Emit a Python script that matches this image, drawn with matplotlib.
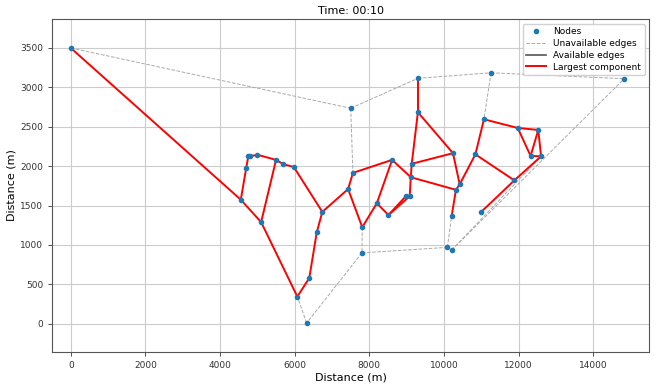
import matplotlib
matplotlib.use('Agg')
import matplotlib.pyplot as plt
from matplotlib.lines import Line2D

# node positions (m)
node_x = [0, 7500, 9300, 11260, 14830, 9300, 4760, 4800, 5000, 4700,
          5500, 5695, 5975, 4555, 5100, 6740, 6590, 6390, 6070, 6320,
          7430, 7560, 8610, 9135, 9110, 8200, 8510, 8980, 9080, 7810,
          7800, 10090, 10205, 10205, 10240, 10420, 10320, 10840, 11070, 11975,
          12525, 12320, 12600, 11885, 10985]
node_y = [3500, 2735, 3115, 3185, 3110, 2685, 2135, 2125, 2145, 1975,
          2080, 2025, 1990, 1575, 1290, 1420, 1160, 580, 345, 10,
          1710, 1915, 2080, 2030, 1860, 1530, 1380, 1620, 1618, 1225,
          900, 970, 935, 1370, 2165, 1770, 1700, 2150, 2595, 2485,
          2460, 2130, 2125, 1820, 1415]

# edges as node index pairs
unavailable_edges = [(0, 1), (1, 2), (2, 3), (3, 4), (3, 38), (1, 21), (29, 30),
                     (30, 19), (19, 18), (30, 31), (31, 33), (32, 42), (32, 4)]
largest_edges = [(0, 13), (13, 14), (14, 18), (13, 9), (9, 6), (6, 7), (7, 8), (8, 10),
                 (10, 14), (10, 11), (11, 12), (12, 15), (15, 16), (16, 17), (17, 18),
                 (15, 20), (20, 21), (20, 29), (29, 25), (25, 22), (25, 26), (26, 27),
                 (26, 28), (21, 22), (22, 24), (24, 23), (24, 28), (23, 5), (5, 2),
                 (5, 34), (23, 34), (24, 36), (34, 35), (35, 36), (36, 33), (35, 37),
                 (37, 38), (37, 43), (38, 39), (39, 40), (39, 41), (41, 42), (41, 40),
                 (40, 42), (42, 43), (43, 44)]

plt.rcParams['font.family'] = 'DejaVu Sans'
fig = plt.figure(figsize=(6.59, 3.85), dpi=100)
ax = fig.add_axes([0.0794, 0.0865, 0.9059, 0.8634])

for a, b in unavailable_edges:
    ax.plot([node_x[a], node_x[b]], [node_y[a], node_y[b]], color='#aaaaaa',
            linestyle='--', linewidth=0.7, zorder=2)
for a, b in largest_edges:
    ax.plot([node_x[a], node_x[b]], [node_y[a], node_y[b]], color='red',
            linewidth=1.4, zorder=3)
ax.scatter(node_x, node_y, s=9, color='#1f77b4', zorder=4)

handles = [
    Line2D([], [], marker='o', linestyle='none', color='#1f77b4', markersize=3),
    Line2D([], [], color='#aaaaaa', linestyle='--', linewidth=0.7),
    Line2D([], [], color='#555555', linewidth=1.2),
    Line2D([], [], color='red', linewidth=1.4),
]
labels = ['Nodes', 'Unavailable edges', 'Available edges', 'Largest component']
ax.legend(handles, labels, loc='upper right', fontsize=6.5, handlelength=2.2,
          borderpad=0.4, labelspacing=0.3, framealpha=0.9)

ax.set_xlim(-494, 15500)
ax.set_ylim(-354, 3864)
ax.set_xticks(range(0, 15000, 2000))
ax.set_yticks(range(0, 4000, 500))
ax.tick_params(labelsize=6.5, length=3, width=0.6, colors='#333333')
for s in ax.spines.values():
    s.set_color('#555555')
    s.set_linewidth(0.8)
ax.grid(True, color='#cccccc', linewidth=0.8)
ax.set_axisbelow(True)
ax.set_title('Time: 00:10', fontsize=8, pad=4)
ax.set_xlabel('Distance (m)', fontsize=8, labelpad=2)
ax.set_ylabel('Distance (m)', fontsize=8, labelpad=3)

fig.savefig('out.png', dpi=100)
plt.close(fig)
